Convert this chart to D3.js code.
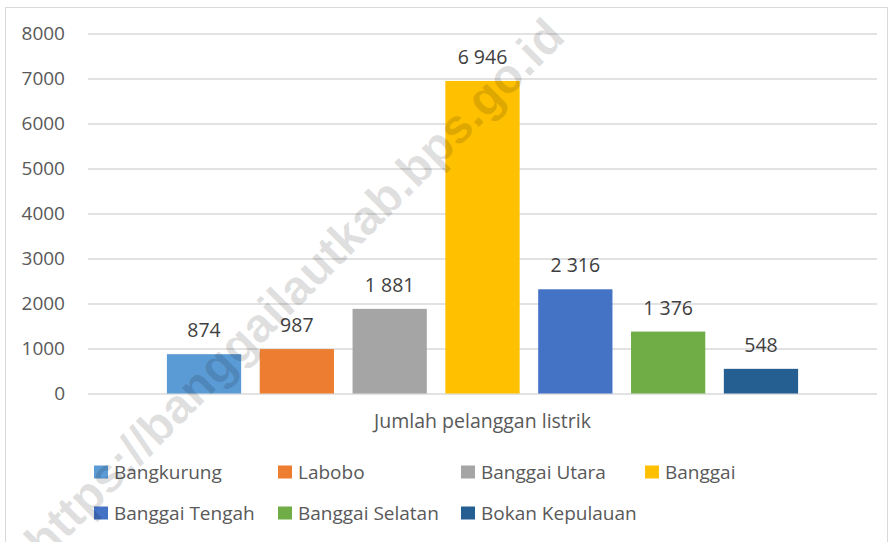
<!DOCTYPE html>
<html>
<head>
    <meta charset="utf-8">
    <script src="https://d3js.org/d3.v7.min.js"></script>
    <style>
        body { margin: 0; background: #fff; }
        text { font-family: "Open Sans", sans-serif; fill: #595959; }
    </style>
</head>
<body>
    <svg id="chart" width="889" height="542"></svg>

    <script>
        // chart data
        const category = "Jumlah pelanggan listrik";
        const seriesNames = ["Bangkurung", "Labobo", "Banggai Utara", "Banggai",
            "Banggai Tengah", "Banggai Selatan", "Bokan Kepulauan"];
        const seriesValues = [874, 987, 1881, 6946, 2316, 1376, 548];
        const seriesColors = ["#5B9BD5", "#ED7D31", "#A5A5A5", "#FFC000",
            "#4472C4", "#70AD47", "#255E91"];
        const yTicks = [0, 1000, 2000, 3000, 4000, 5000, 6000, 7000, 8000];

        const svg = d3.select("#chart"),
            width = +svg.attr("width"),
            height = +svg.attr("height");

        const plot = { left: 88, right: 877, top: 33.5, bottom: 393.5 };

        // outer frame
        svg.append("rect")
            .attr("x", 5.5).attr("y", 7.5)
            .attr("width", 882).attr("height", 545)
            .attr("fill", "none")
            .attr("stroke", "#d9d9d9");

        const y = d3.scaleLinear()
            .domain([0, 8000])
            .range([plot.bottom, plot.top]);

        const x0 = d3.scaleBand()
            .domain([category])
            .range([plot.left, plot.right])
            .paddingOuter(0.125)
            .paddingInner(0);

        const x1 = d3.scaleBand()
            .domain(seriesNames)
            .range([0, x0.bandwidth()])
            .paddingInner(0.2)
            .paddingOuter(0);

        // gridlines + tick labels
        const yAxis = svg.append("g")
            .attr("transform", `translate(${plot.left},0)`)
            .call(d3.axisLeft(y).tickValues(yTicks)
                .tickSize(-(plot.right - plot.left))
                .tickPadding(23)
                .tickFormat(d3.format("d")));
        yAxis.select(".domain").remove();
        yAxis.selectAll(".tick line")
            .attr("stroke", "#d9d9d9")
            .attr("stroke-width", 1.3);
        yAxis.selectAll(".tick text")
            .style("font-size", "19px")
            .attr("fill", "#595959");

        // bars
        const g = svg.append("g")
            .attr("transform", `translate(${x0(category)},0)`);

        g.selectAll("rect")
            .data(seriesNames)
            .join("rect")
            .attr("x", d => x1(d))
            .attr("y", (d, i) => y(seriesValues[i]))
            .attr("width", x1.bandwidth())
            .attr("height", (d, i) => y(0) - y(seriesValues[i]))
            .attr("fill", (d, i) => seriesColors[i]);

        // value labels
        const fmt = d3.formatLocale({ decimal: ",", thousands: " ", grouping: [3], currency: ["", ""] }).format(",d");
        g.selectAll("text.val")
            .data(seriesNames)
            .join("text")
            .attr("class", "val")
            .attr("x", d => x1(d) + x1.bandwidth() / 2)
            .attr("y", (d, i) => y(seriesValues[i]) - 17)
            .attr("text-anchor", "middle")
            .style("font-size", "19.5px")
            .style("fill", "#404040")
            .text((d, i) => fmt(seriesValues[i]));

        // category label
        svg.append("text")
            .attr("x", x0(category) + x0.bandwidth() / 2)
            .attr("y", 428)
            .attr("text-anchor", "middle")
            .style("font-size", "19.5px")
            .text(category);

        // legend
        const legCols = [94, 278, 461, 645];
        const legRows = [472, 513];
        const leg = svg.append("g").selectAll("g")
            .data(seriesNames)
            .join("g")
            .attr("transform", (d, i) => `translate(${legCols[i % 4]},${legRows[Math.floor(i / 4)]})`);
        leg.append("rect")
            .attr("x", 0).attr("y", -6.5)
            .attr("width", 14).attr("height", 13)
            .attr("fill", (d, i) => seriesColors[i]);
        leg.append("text")
            .attr("x", 20)
            .attr("dy", "0.35em")
            .style("font-size", "19px")
            .text(d => d);

        // watermark (runs off the bottom-left edge like the original)
        svg.append("text")
            .attr("transform", "translate(294,288) rotate(-45)")
            .attr("text-anchor", "middle")
            .attr("dy", "0.35em")
            .style("font-family", "'Liberation Sans', Arial, sans-serif")
            .style("font-weight", "bold")
            .style("font-size", "48px")
            .style("fill", "#000")
            .style("fill-opacity", 0.13)
            .text("https://banggailautkab.bps.go.id");
    </script>
</body>
</html>
